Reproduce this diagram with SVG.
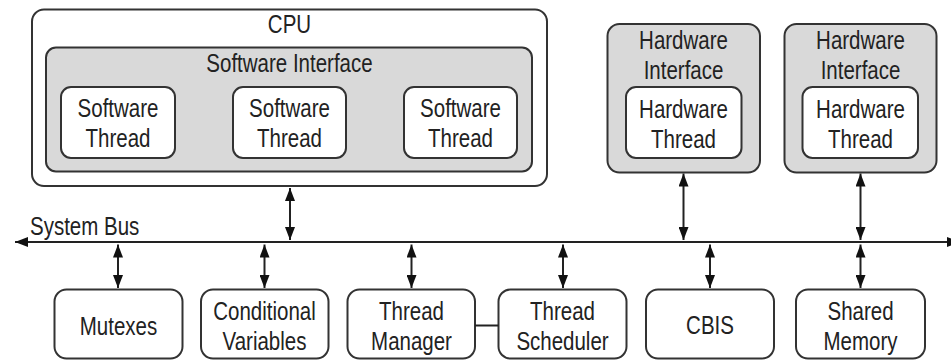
<svg xmlns="http://www.w3.org/2000/svg" width="951" height="360" viewBox="0 0 951 360">
  <style>
    .box { fill: #ffffff; stroke: #333333; stroke-width: 2; }
    .iface { fill: #d9d9d9; stroke: #333333; stroke-width: 2; }
    .lbl { font-family: "Liberation Sans", Arial, sans-serif; font-size: 20.5px; fill: #222222; text-anchor: middle; }
    .start { text-anchor: start; }
    .wire { stroke: #222222; stroke-width: 2; fill: none; }
    .link { stroke: #222222; stroke-width: 2; fill: none; marker-start: url(#head); marker-end: url(#head); }
  </style>
  <defs>
    <marker id="head" viewBox="0 0 13 10" refX="13" refY="5" markerWidth="13" markerHeight="10" markerUnits="userSpaceOnUse" orient="auto-start-reverse">
      <path d="M0,0 L13,5 L0,10 Z" fill="#111111"/>
    </marker>
  </defs>

  <rect width="951" height="360" fill="#ffffff"/>

  <!-- Labels use a tall, narrow face: glyphs stretched 1.25x vertically -->

  <!-- CPU with its software interface and threads -->
  <g id="cpu">
    <rect class="box" x="32" y="9.5" width="515" height="176.5" rx="12"/>
    <text class="lbl" transform="matrix(1 0 0 1.25 289.5 33)">CPU</text>
  </g>
  <g id="software-interface">
    <rect class="iface" x="46" y="47.5" width="486" height="124" rx="10"/>
    <text class="lbl" transform="matrix(1 0 0 1.25 289.5 72)">Software Interface</text>
  </g>
  <g id="sw-thread-1">
    <rect class="box" x="61" y="87" width="114" height="71" rx="10"/>
    <text class="lbl" transform="matrix(1 0 0 1.25 118 117)">Software</text>
    <text class="lbl" transform="matrix(1 0 0 1.25 118 147)">Thread</text>
  </g>
  <g id="sw-thread-2">
    <rect class="box" x="233" y="87" width="113" height="71" rx="10"/>
    <text class="lbl" transform="matrix(1 0 0 1.25 289.5 117)">Software</text>
    <text class="lbl" transform="matrix(1 0 0 1.25 289.5 147)">Thread</text>
  </g>
  <g id="sw-thread-3">
    <rect class="box" x="404" y="87" width="113" height="71" rx="10"/>
    <text class="lbl" transform="matrix(1 0 0 1.25 460.5 117)">Software</text>
    <text class="lbl" transform="matrix(1 0 0 1.25 460.5 147)">Thread</text>
  </g>

  <!-- Hardware interfaces -->
  <g id="hw-interface-1">
    <rect class="iface" x="607.5" y="24" width="152.5" height="148.5" rx="12"/>
    <text class="lbl" transform="matrix(1 0 0 1.25 683.5 48.5)">Hardware</text>
    <text class="lbl" transform="matrix(1 0 0 1.25 683.5 79)">Interface</text>
  </g>
  <g id="hw-thread-1">
    <rect class="box" x="626" y="87" width="115.5" height="71" rx="10"/>
    <text class="lbl" transform="matrix(1 0 0 1.25 683.5 117.5)">Hardware</text>
    <text class="lbl" transform="matrix(1 0 0 1.25 683.5 148)">Thread</text>
  </g>
  <g id="hw-interface-2">
    <rect class="iface" x="784.5" y="24" width="152" height="148.5" rx="12"/>
    <text class="lbl" transform="matrix(1 0 0 1.25 860.5 48.5)">Hardware</text>
    <text class="lbl" transform="matrix(1 0 0 1.25 860.5 79)">Interface</text>
  </g>
  <g id="hw-thread-2">
    <rect class="box" x="802.5" y="87" width="115.5" height="71" rx="10"/>
    <text class="lbl" transform="matrix(1 0 0 1.25 860.5 117.5)">Hardware</text>
    <text class="lbl" transform="matrix(1 0 0 1.25 860.5 148)">Thread</text>
  </g>

  <!-- System bus label -->
  <g id="system-bus">
    <text class="lbl start" transform="matrix(1 0 0 1.25 30 235)">System Bus</text>
  </g>

  <!-- Bus-attached modules -->
  <g id="mutexes">
    <rect class="box" x="54.5" y="289.5" width="128" height="69" rx="12"/>
    <text class="lbl" transform="matrix(1 0 0 1.25 118.5 335)">Mutexes</text>
  </g>
  <g id="conditional-variables">
    <rect class="box" x="201" y="289.5" width="127.5" height="69" rx="12"/>
    <text class="lbl" transform="matrix(1 0 0 1.25 264.5 319.5)">Conditional</text>
    <text class="lbl" transform="matrix(1 0 0 1.25 264.5 349.5)">Variables</text>
  </g>
  <g id="thread-manager">
    <rect class="box" x="347.5" y="289.5" width="127.5" height="69" rx="12"/>
    <text class="lbl" transform="matrix(1 0 0 1.25 411.5 319.5)">Thread</text>
    <text class="lbl" transform="matrix(1 0 0 1.25 411.5 349.5)">Manager</text>
  </g>
  <g id="thread-scheduler">
    <rect class="box" x="498.5" y="289.5" width="128" height="69" rx="12"/>
    <text class="lbl" transform="matrix(1 0 0 1.25 562.5 319.5)">Thread</text>
    <text class="lbl" transform="matrix(1 0 0 1.25 562.5 349.5)">Scheduler</text>
  </g>
  <g id="cbis">
    <rect class="box" x="646" y="289.5" width="128" height="69" rx="12"/>
    <text class="lbl" transform="matrix(1 0 0 1.25 710 334)">CBIS</text>
  </g>
  <g id="shared-memory">
    <rect class="box" x="796" y="289.5" width="129" height="69" rx="12"/>
    <text class="lbl" transform="matrix(1 0 0 1.25 860.5 319.5)">Shared</text>
    <text class="lbl" transform="matrix(1 0 0 1.25 860.5 349.5)">Memory</text>
  </g>

  <!-- Connectors -->
  <g id="connectors">
    <line class="wire" x1="15" y1="242" x2="960" y2="242" marker-start="url(#head)" marker-end="url(#head)"/>
    <line class="link" x1="290" y1="188" x2="290" y2="240"/>
    <line class="link" x1="683.5" y1="173.5" x2="683.5" y2="240"/>
    <line class="link" x1="860.5" y1="173.5" x2="860.5" y2="240"/>
    <line class="link" x1="118" y1="244.5" x2="118" y2="288"/>
    <line class="link" x1="264.5" y1="244.5" x2="264.5" y2="288"/>
    <line class="link" x1="411.5" y1="244.5" x2="411.5" y2="288"/>
    <line class="link" x1="563" y1="244.5" x2="563" y2="288"/>
    <line class="link" x1="710" y1="244.5" x2="710" y2="288"/>
    <line class="link" x1="860.5" y1="244.5" x2="860.5" y2="288"/>
    <line class="wire" x1="475" y1="325.5" x2="498.5" y2="325.5"/>
  </g>
</svg>
